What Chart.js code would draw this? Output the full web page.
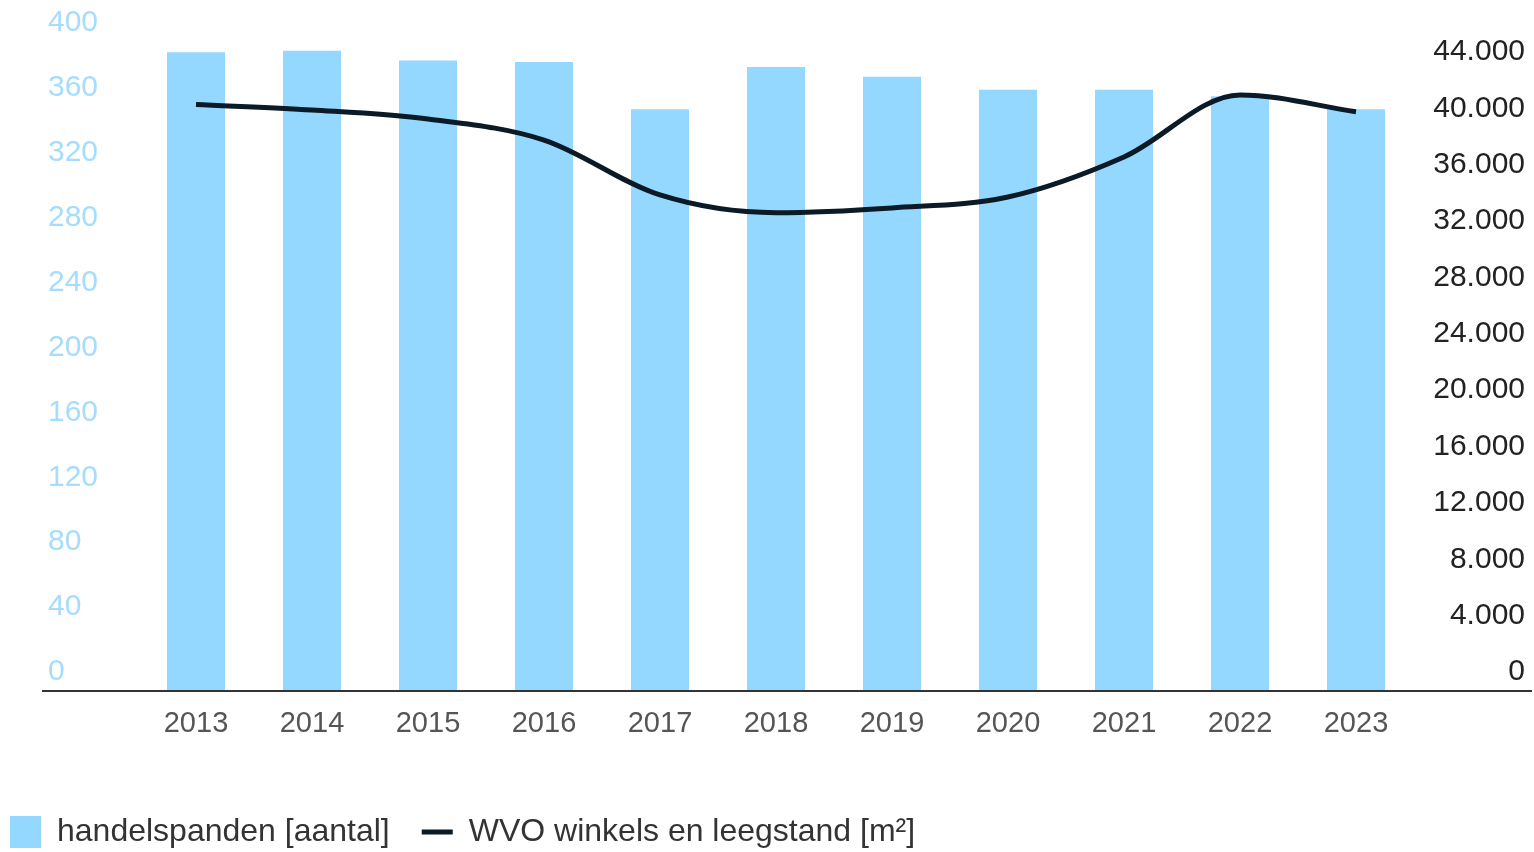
<!DOCTYPE html>
<html>
<head>
<meta charset="utf-8">
<script src="https://cdn.jsdelivr.net/npm/chart.js@4.4.1/dist/chart.umd.min.js"></script>
<style>
  html, body { margin: 0; padding: 0; background: #fff; }
</style>
</head>
<body>
<canvas id="grafiek" width="1534" height="852"></canvas>
<script>
// gegevens
const jaren = ["2013", "2014", "2015", "2016", "2017", "2018", "2019", "2020", "2021", "2022", "2023"];
const handelspanden = [393, 394, 388, 387, 358, 384, 378, 370, 370, 366, 358];
const wvoWinkels = [41550, 41160, 40520, 39030, 35130, 33870, 34210, 34990, 37830, 42230, 41040];
const ticksLinks = [0, 40, 80, 120, 160, 200, 240, 280, 320, 360, 400];
const ticksRechts = [0, 4000, 8000, 12000, 16000, 20000, 24000, 28000, 32000, 36000, 40000, 44000];

Chart.defaults.font.family = '"Liberation Sans", Arial, sans-serif';

function puntjes(v) {
  return String(v).replace(/\B(?=(\d{3})+(?!\d))/g, '.');
}

// doorlopende x-as lijn onder de grafiek
const aslijn = {
  id: 'aslijn',
  afterDatasetsDraw(chart) {
    const { ctx, chartArea } = chart;
    ctx.save();
    ctx.strokeStyle = '#333';
    ctx.lineWidth = 2;
    ctx.beginPath();
    ctx.moveTo(42, chartArea.bottom + 1);
    ctx.lineTo(chart.width - 2, chartArea.bottom + 1);
    ctx.stroke();
    ctx.restore();
  }
};

// legenda helemaal links en iets lager zetten
const legendaLinks = {
  id: 'legendaLinks',
  afterLayout(chart) {
    const lg = chart.legend;
    lg.left = 10 - lg.options.labels.padding;
    lg.top += 6;
    lg.bottom += 6;
  }
};

new Chart(document.getElementById('grafiek'), {
  data: {
    labels: jaren,
    datasets: [
      {
        type: 'bar',
        label: 'handelspanden [aantal]',
        data: handelspanden,
        backgroundColor: '#95d8ff',
        yAxisID: 'yL',
        barPercentage: 0.5,
        categoryPercentage: 1,
        pointStyle: 'rect',
        order: 1
      },
      {
        type: 'line',
        label: 'WVO winkels en leegstand [m²]',
        data: wvoWinkels,
        borderColor: '#0a1a26',
        backgroundColor: '#0a1a26',
        borderWidth: 5,
        pointRadius: 0,
        cubicInterpolationMode: 'monotone',
        yAxisID: 'yR',
        pointStyle: 'line',
        order: 0
      }
    ]
  },
  options: {
    responsive: false,
    animation: false,
    layout: { padding: { top: 41, right: 9, left: 48, bottom: 0 } },
    plugins: {
      tooltip: { enabled: false },
      legend: {
        position: 'bottom',
        align: 'start',
        labels: {
          usePointStyle: true,
          pointStyleWidth: 31,
          boxHeight: 32,
          padding: 32,
          color: '#333',
          font: { size: 32 },
          sort: (a, b) => a.datasetIndex - b.datasetIndex
        }
      }
    },
    scales: {
      x: {
        grid: { display: false, drawTicks: false },
        border: { display: false },
        ticks: { color: '#555', font: { size: 29 }, padding: 17 },
        afterFit(scale) { scale.height = 88; }
      },
      yL: {
        position: 'left',
        min: 0,
        max: ticksLinks[ticksLinks.length - 1],
        grid: { display: false, drawTicks: false },
        border: { display: false },
        ticks: {
          crossAlign: 'far',
          labelOffset: -18,
          color: '#a6dcfd',
          font: { size: 30 }
        },
        afterBuildTicks(scale) {
          scale.ticks = ticksLinks.map(v => ({ value: v }));
        },
        afterFit(scale) { scale.width = 90; }
      },
      yR: {
        position: 'right',
        min: 0,
        max: ticksRechts[ticksRechts.length - 1] * 649 / 620,
        grid: { display: false, drawTicks: false },
        border: { display: false },
        ticks: {
          crossAlign: 'far',
          labelOffset: -18,
          color: '#222',
          font: { size: 30 },
          callback: (v) => puntjes(v)
        },
        afterBuildTicks(scale) {
          scale.ticks = ticksRechts.map(v => ({ value: v }));
        },
        afterFit(scale) { scale.width = 111; }
      }
    }
  },
  plugins: [aslijn, legendaLinks]
});
</script>
</body>
</html>
